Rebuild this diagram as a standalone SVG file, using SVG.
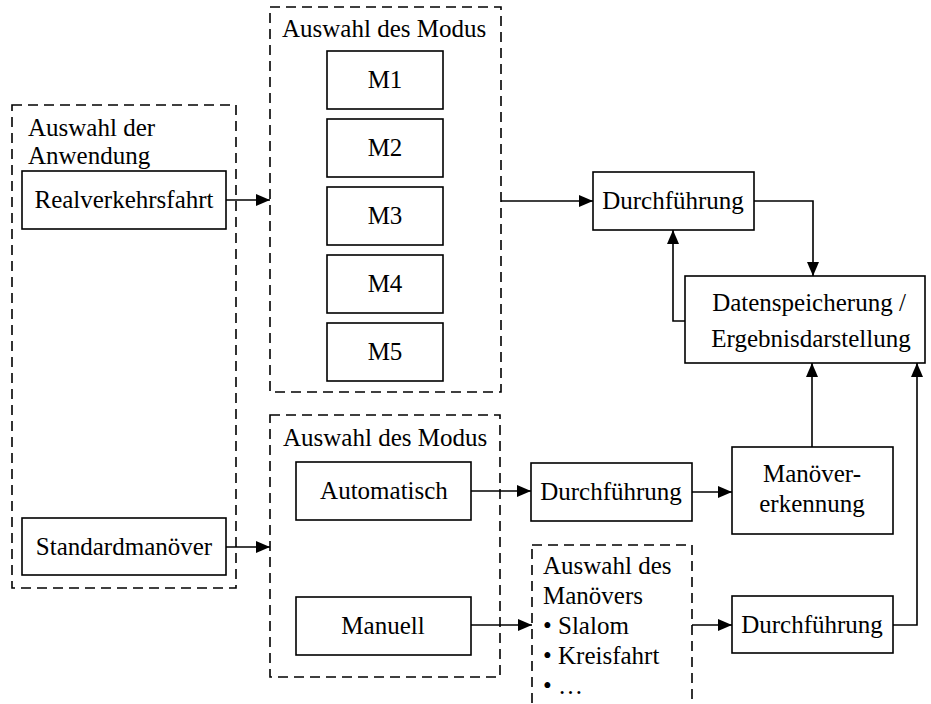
<svg xmlns="http://www.w3.org/2000/svg" width="931" height="704" viewBox="0 0 931 704">
  <style>
    .box { fill: #fff; stroke: #000; stroke-width: 1.6; }
    .group { fill: none; stroke: #000; stroke-width: 1.6; stroke-dasharray: 10 6; }
    .t { font-family: "Liberation Serif", "Times New Roman", serif; font-size: 25px; fill: #000; }
    .c { text-anchor: middle; }
    .wire { fill: none; stroke: #000; stroke-width: 1.6; marker-end: url(#arrow); }
  </style>
  <defs>
    <marker id="arrow" markerUnits="userSpaceOnUse" markerWidth="14" markerHeight="12" viewBox="0 0 14 12" refX="14" refY="6" orient="auto">
      <path d="M0,0 L14,6 L0,12 z" fill="#000"/>
    </marker>
  </defs>
  <rect width="931" height="704" fill="#fff"/>

  <!-- application selection -->
  <g id="auswahl-anwendung">
    <rect class="group" x="12" y="105" width="224" height="483"/>
    <text class="t" x="28" y="136">Auswahl der</text>
    <text class="t" x="28" y="164">Anwendung</text>
  </g>
  <g id="realverkehrsfahrt">
    <rect class="box" x="22" y="171" width="204" height="58"/>
    <text class="t c" x="124" y="208">Realverkehrsfahrt</text>
  </g>
  <g id="standardmanoever">
    <rect class="box" x="22" y="518" width="204" height="57"/>
    <text class="t c" x="124" y="555">Standardmanöver</text>
  </g>

  <!-- mode selection (real traffic) -->
  <g id="auswahl-modus-1">
    <rect class="group" x="270" y="7" width="231" height="385"/>
    <text class="t" x="282" y="37">Auswahl des Modus</text>
  </g>
  <g id="m1"><rect class="box" x="327" y="51" width="116" height="58"/><text class="t c" x="385" y="88">M1</text></g>
  <g id="m2"><rect class="box" x="327" y="119" width="116" height="58"/><text class="t c" x="385" y="156">M2</text></g>
  <g id="m3"><rect class="box" x="327" y="187" width="116" height="58"/><text class="t c" x="385" y="224">M3</text></g>
  <g id="m4"><rect class="box" x="327" y="255" width="116" height="58"/><text class="t c" x="385" y="292">M4</text></g>
  <g id="m5"><rect class="box" x="327" y="323" width="116" height="58"/><text class="t c" x="385" y="360">M5</text></g>

  <g id="durchfuehrung-1">
    <rect class="box" x="593" y="172" width="161" height="58"/>
    <text class="t c" x="673" y="209">Durchführung</text>
  </g>
  <g id="datenspeicherung">
    <rect class="box" x="685" y="276" width="240" height="87"/>
    <text class="t c" x="809" y="311">Datenspeicherung /</text>
    <text class="t c" x="811" y="347">Ergebnisdarstellung</text>
  </g>

  <!-- mode selection (standard manoeuvres) -->
  <g id="auswahl-modus-2">
    <rect class="group" x="270" y="415" width="230" height="262"/>
    <text class="t" x="283" y="446">Auswahl des Modus</text>
  </g>
  <g id="automatisch">
    <rect class="box" x="296" y="462" width="175" height="58"/>
    <text class="t c" x="384" y="499">Automatisch</text>
  </g>
  <g id="manuell">
    <rect class="box" x="296" y="597" width="175" height="58"/>
    <text class="t c" x="383" y="634">Manuell</text>
  </g>
  <g id="durchfuehrung-2">
    <rect class="box" x="531" y="463" width="161" height="58"/>
    <text class="t c" x="611" y="500">Durchführung</text>
  </g>
  <g id="manoevererkennung">
    <rect class="box" x="732" y="447" width="161" height="87"/>
    <text class="t c" x="812" y="482">Manöver-</text>
    <text class="t c" x="812" y="512">erkennung</text>
  </g>
  <g id="auswahl-manoever">
    <rect class="group" x="532" y="545" width="160" height="175"/>
    <text class="t" x="543" y="574">Auswahl des</text>
    <text class="t" x="543" y="604">Manövers</text>
    <text class="t" x="543" y="634">• Slalom</text>
    <text class="t" x="543" y="664">• Kreisfahrt</text>
    <text class="t" x="543" y="694">• …</text>
  </g>
  <g id="durchfuehrung-3">
    <rect class="box" x="732" y="596" width="161" height="57"/>
    <text class="t c" x="812" y="633">Durchführung</text>
  </g>

  <!-- connectors -->
  <g id="connectors">
    <path class="wire" d="M226,200 H270"/>
    <path class="wire" d="M226,547 H270"/>
    <path class="wire" d="M501,201 H593"/>
    <path class="wire" d="M754,201 H813 V276"/>
    <path class="wire" d="M685,321 H673 V230"/>
    <path class="wire" d="M471,491 H531"/>
    <path class="wire" d="M692,492 H732"/>
    <path class="wire" d="M812,447 V363"/>
    <path class="wire" d="M471,625 H532"/>
    <path class="wire" d="M692,625 H732"/>
    <path class="wire" d="M893,625 H917 V363"/>
  </g>
</svg>
